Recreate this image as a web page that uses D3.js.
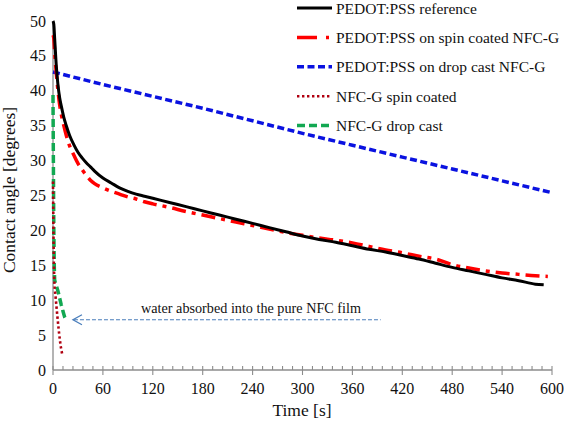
<!DOCTYPE html>
<html><head><meta charset="utf-8">
<script src="https://cdn.jsdelivr.net/npm/d3@7"></script>
<style>body{margin:0;background:#fff}</style>
</head><body><svg id="c" width="564" height="423" font-family="'Liberation Serif', 'Times New Roman', 'DejaVu Serif', serif"></svg>
<script>
const seriesNames = ["PEDOT:PSS reference","PEDOT:PSS on spin coated NFC-G","PEDOT:PSS on drop cast NFC-G","NFC-G spin coated","NFC-G drop cast"];
const refT = [0,1,2,4,6,8,10,13,16,20,25,30,35,40,45,50,60,70,80,90,100,110,120,140,160,180,200,220,240,260,280,300,320,340,360,380,400,420,440,460,480,500,520,540,560,580,590];
const refV = [50.0,49.5,47.5,43.5,40.8,39.0,37.8,36.2,35.0,33.6,32.3,31.2,30.4,29.7,29.1,28.5,27.5,26.8,26.1,25.6,25.2,24.9,24.6,24.0,23.4,22.8,22.2,21.6,21.0,20.4,19.8,19.2,18.7,18.3,17.8,17.3,16.9,16.4,15.9,15.3,14.7,14.2,13.7,13.2,12.8,12.3,12.2];
const spinT = [0,1,2,4,6,8,10,13,16,20,25,30,35,40,45,50,60,70,80,90,100,110,120,140,160,180,200,220,240,260,280,300,320,340,360,380,400,420,440,460,480,500,520,540,560,580,595];
const spinV = [48.0,47.5,45.5,42.5,40.0,38.0,36.6,35.0,33.6,32.1,30.8,29.6,28.7,27.9,27.2,26.7,26.1,25.6,25.2,24.8,24.5,24.1,23.8,23.3,22.7,22.2,21.7,21.2,20.7,20.2,19.7,19.3,18.9,18.6,18.2,17.7,17.2,16.8,16.3,15.9,15.1,14.6,14.2,13.9,13.7,13.5,13.4];
const dropT = [0,60,120,180,240,300,360,420,480,540,600];
const dropV = [42.7,40.9,39.2,37.5,35.7,33.9,32.2,30.5,28.8,27.1,25.4];
const nfcSpinT = [0,0.3,0.6,1,1.5,2,3,4,5,6,7,8,9,10,11];
const nfcSpinV = [27,23,19,15.5,13,11.8,10.6,9.3,8.0,6.8,5.6,4.6,3.6,2.9,2.3];
const nfcDropT = [0,0.2,0.4,0.6,0.8,1,1.3,1.6,2,3,4,6,8,10,12,14,16];
const nfcDropV = [39.4,35,31,27,23,20,17,14.5,12.9,12.4,12.1,11.3,10.3,9.3,8.4,7.6,7.2];
const xTicks = [0,60,120,180,240,300,360,420,480,540,600];
const yTicks = [0,5,10,15,20,25,30,35,40,45,50];
const annotation = {text:"water absorbed into the pure NFC film", t0:24, t1:394, v:7.2};

const colors = ["#000000","#ff0000","#0a12e0","#b00010","#12a852"];
const dashes = [null,"14,6,4,6","7,3.5","2.4,2.6","8,4"];
const widths = [3,3.5,3.5,2.6,3.5];

const svg = d3.select("#c");
const x = d3.scaleLinear().domain([0,600]).range([53,552]);
const y = d3.scaleLinear().domain([0,50]).range([370,21]);

// axes
svg.append("line").attr("x1",x(0)).attr("x2",x(0)).attr("y1",y(50)).attr("y2",y(0)).attr("stroke","#8c8c8c").attr("stroke-width",1.3);
svg.append("line").attr("x1",x(0)).attr("x2",x(600)).attr("y1",y(0)).attr("y2",y(0)).attr("stroke","#8c8c8c").attr("stroke-width",1.3);
const minor = d3.range(0,601,12);
svg.selectAll(".mt").data(minor).enter().append("line")
  .attr("x1",d=>x(d)).attr("x2",d=>x(d))
  .attr("y1",d=>d%60===0? y(0)+5 : y(0))
  .attr("y2",y(0)-4)
  .attr("stroke","#8c8c8c").attr("stroke-width",1.1);
svg.selectAll(".xl").data(xTicks).enter().append("text")
  .attr("x",d=>x(d)).attr("y",y(0)+24).attr("text-anchor","middle")
  .attr("font-size",16).attr("fill","#111").text(d=>d);
svg.selectAll(".yl").data(yTicks).enter().append("text")
  .attr("x",46).attr("y",d=>y(d)+5.5).attr("text-anchor","end")
  .attr("font-size",16).attr("fill","#111").text(d=>d);
svg.append("text").attr("x",302).attr("y",416).attr("text-anchor","middle").attr("font-size",17.5).attr("fill","#111").text("Time [s]");
svg.append("text").attr("transform","translate(15,190) rotate(-90)").attr("text-anchor","middle").attr("font-size",17.5).attr("fill","#111").text("Contact angle [degrees]");

// series
const sets = [[refT,refV],[spinT,spinV],[dropT,dropV],[nfcSpinT,nfcSpinV],[nfcDropT,nfcDropV]];
const order = [2,4,3,1,0];
order.forEach(i=>{
  const pts = sets[i][0].map((t,k)=>[t,sets[i][1][k]]);
  const p = svg.append("path").datum(pts)
    .attr("d", d3.line().x(d=>x(d[0])).y(d=>y(d[1])).curve(i<2? d3.curveMonotoneX : d3.curveLinear))
    .attr("fill","none").attr("stroke",colors[i]).attr("stroke-width",widths[i]);
  if(dashes[i]) p.attr("stroke-dasharray",dashes[i]);
});

// annotation
const ay = y(annotation.v);
svg.append("line").attr("x1",x(annotation.t0)+1).attr("x2",x(annotation.t1)).attr("y1",ay).attr("y2",ay)
  .attr("stroke","#4a7ebb").attr("stroke-width",1.2).attr("stroke-dasharray","4,2");
svg.append("path").attr("d",`M${x(annotation.t0)+9},${ay-5} L${x(annotation.t0)},${ay} L${x(annotation.t0)+9},${ay+5}`)
  .attr("fill","none").attr("stroke","#4a7ebb").attr("stroke-width",1.3);
svg.append("text").attr("x",251).attr("y",313).attr("text-anchor","middle").attr("font-size",14.2).attr("fill","#111").text(annotation.text);

// legend
const lg = svg.append("g");
seriesNames.forEach((n,i)=>{
  const ly = 8 + i*29.4;
  const l = lg.append("line").attr("x1",297).attr("x2",332).attr("y1",ly).attr("y2",ly)
    .attr("stroke",colors[i]).attr("stroke-width",widths[i]);
  if(dashes[i]) l.attr("stroke-dasharray", i===1 ? "20,9,3,9" : dashes[i]);
  lg.append("text").attr("x",336).attr("y",ly+5.5).attr("font-size",15.5).attr("fill","#111").text(n);
});
</script></body></html>
